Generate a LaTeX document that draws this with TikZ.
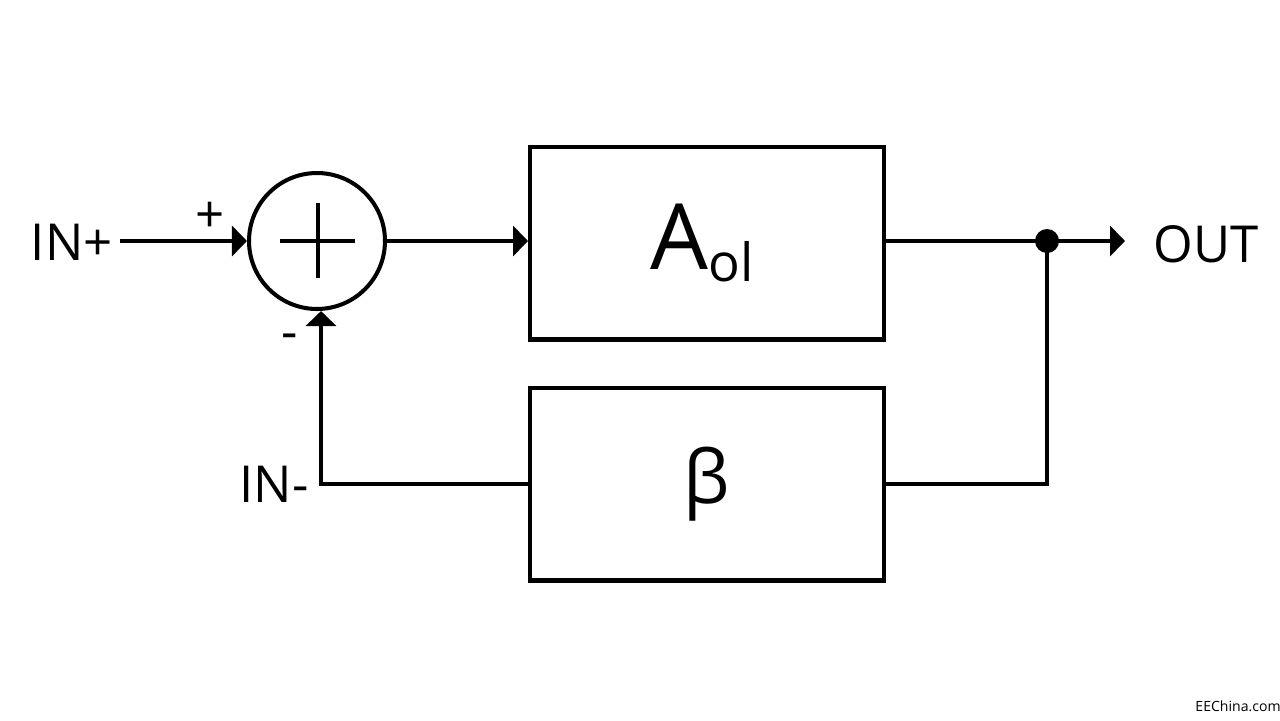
\documentclass[tikz,border=0pt]{standalone}
\usepackage{fontspec}
\setmainfont{Open Sans}
\usetikzlibrary{arrows.meta}

\tikzset{
	block/.style={draw, line width=2.3pt, minimum width=7.08cm, minimum height=3.86cm, inner sep=0pt},
	sumnode/.style={draw, circle, line width=2.3pt, minimum size=2.72cm, inner sep=0pt},
	wire/.style={line width=2pt},
	sig/.style={wire, -{Triangle[length=0.3cm, width=0.6cm]}},
	lbl/.style={font=\fontsize{29}{29}\selectfont, inner sep=0pt}
}

\begin{document}
\begin{tikzpicture}[x=0.02cm, y=-0.02cm]
	\useasboundingbox (0,0) rectangle (1280,720);

	% sum
	\node[sumnode] (sum) at (317,241) {};
	\draw[wire] (280,241) -- (355,241);
	\draw[wire] (318,203) -- (318,278);
	\node[lbl] at (210,217) {+};
	\node[lbl] at (290,342) {-};

	% blocks
	\node[block] (aol) at (707,243) {};
	\node[inner sep=0pt] at (702,243) {\fontsize{52}{52}\selectfont A\raisebox{-7pt}{\fontsize{30}{30}\selectfont ol}};
	\node[block] (beta) at (707,484) {\fontsize{42}{42}\selectfont β};

	% inputs and output
	\node[lbl, anchor=east] (inp) at (113,242) {IN+};
	\node[lbl, anchor=east] (inm) at (309,484) {IN-};
	\node[lbl, anchor=west] (out) at (1153,244) {OUT};
	\coordinate (tap) at (1047,241);
	\coordinate (outend) at (1125,241);
	\coordinate (fbleft) at (321,484);

	% forward path
	\draw[sig] (inp.east) ++(7,-1) -- (sum.west);
	\draw[sig] (sum.east) -- (aol.west |- sum.east);
	\draw[wire] (aol.east |- tap) -- (tap);
	\draw[sig] (tap) -- (outend);
	\fill (tap) circle (12);

	% feedback path
	\draw[wire] (tap) -- (tap |- beta.east) -- (beta.east);
	\draw[sig] (beta.west) -- (fbleft) -- (fbleft |- sum.south);

	\node[font=\fontsize{8}{8}\selectfont, inner sep=0pt] at (1238,706) {EEChina.com};
\end{tikzpicture}
\end{document}
